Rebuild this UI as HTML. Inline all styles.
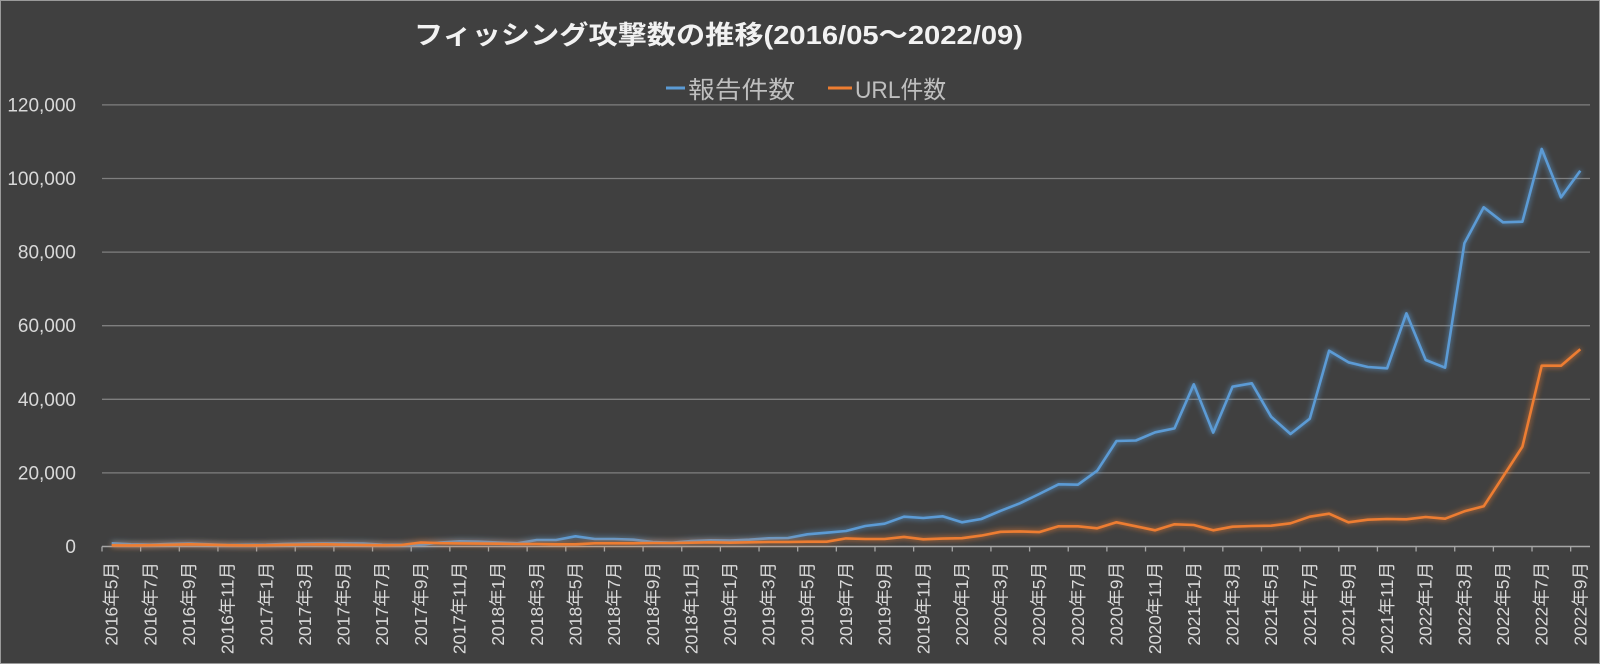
<!DOCTYPE html>
<html><head><meta charset="utf-8"><style>
html,body{margin:0;padding:0;background:#404040;}
svg{display:block;font-family:"Liberation Sans","Noto Sans CJK JP",sans-serif;}
</style></head><body>
<svg id="chart" width="1600" height="664" viewBox="0 0 1600 664" xmlns="http://www.w3.org/2000/svg">
<defs>
<filter id="glowB" x="-5%" y="-20%" width="110%" height="140%"><feGaussianBlur stdDeviation="3" result="b"/><feMerge><feMergeNode in="b"/><feMergeNode in="SourceGraphic"/></feMerge></filter>
</defs>
<rect x="0.5" y="0.5" width="1599" height="663" fill="#404040" stroke="#9a9a9a" stroke-width="1"/>
<text x="414" y="44" font-size="26" font-weight="bold" fill="#f2f2f2" textLength="609" lengthAdjust="spacingAndGlyphs">フィッシング攻撃数の推移(2016/05～2022/09)</text>
<g>
<line x1="666" y1="88" x2="685" y2="88" stroke="#5b9bd5" stroke-width="3"/>
<text x="688" y="98" font-size="24" fill="#bfbfbf" textLength="107" lengthAdjust="spacingAndGlyphs">報告件数</text>
<line x1="828" y1="88" x2="852" y2="88" stroke="#ed7d31" stroke-width="3"/>
<text x="855" y="98" font-size="24" fill="#bfbfbf" textLength="91" lengthAdjust="spacingAndGlyphs">URL件数</text>
</g>
<g id="grid"></g><g id="yaxis"></g><g id="xaxis"></g><g id="series"></g>
</svg>
<script>
const yTicks = [0, 20000, 40000, 60000, 80000, 100000, 120000];
const yTickLabels = ["0", "20,000", "40,000", "60,000", "80,000", "100,000", "120,000"];
const categories = (function(){const a=[];let y=2016,m=5;for(let i=0;i<77;i++){a.push(y+"年"+m+"月");m++;if(m>12){m=1;y++;}}return a;})();
const reports = [870,600,500,700,800,600,400,450,500,700,800,850,850,800,500,450,500,1100,1400,1300,1100,870,1770,1770,2770,2040,2040,1860,1220,1040,1490,1680,1590,1860,2220,2310,3310,3760,4210,5570,6200,8100,7740,8200,6570,7470,9700,11740,14270,16900,16800,20600,28670,28800,31030,32100,44070,30940,43430,44340,35280,30570,34740,53220,50050,48780,48420,63370,50680,48590,82400,92180,88100,88270,108020,94870,102120];
const urls = [330,300,350,450,600,500,350,300,350,450,550,600,500,400,350,400,1100,900,850,800,750,680,680,590,590,870,870,870,960,960,1040,1130,1040,1130,1220,1220,1300,1300,2200,2050,2050,2600,1950,2150,2250,2950,4000,4100,3900,5480,5480,4940,6580,5480,4400,6030,5840,4400,5390,5570,5660,6300,8100,8920,6580,7290,7470,7380,8010,7560,9560,10920,18970,27120,49130,49130,53590];

const NS="http://www.w3.org/2000/svg";
const X0=102, X1=1590, Y0=546.5, YMAX=120000, YTOP=104.9;
const catW=(X1-X0)/categories.length;
function xPos(i){return X0+catW*(i+0.5);}
function yPos(v){return Y0-(v/YMAX)*(Y0-YTOP);}
function mk(tag,attrs,parent){const e=document.createElementNS(NS,tag);for(const k in attrs)e.setAttribute(k,attrs[k]);parent.appendChild(e);return e;}

const grid=document.getElementById('grid'), yaxis=document.getElementById('yaxis'), xaxis=document.getElementById('xaxis'), series=document.getElementById('series');
yTicks.forEach((v,i)=>{
  if(v>0){const g=mk('line',{x1:X0,x2:X1,y1:yPos(v),y2:yPos(v),stroke:'#7f7f7f','stroke-width':1.3},grid);
  
  }
  const t=mk('text',{x:76,y:yPos(v)+6.5,'text-anchor':'end','font-size':19,fill:'#d9d9d9'},yaxis);
  t.textContent=yTickLabels[i];
  
  
});
const ax=mk('line',{x1:X0,x2:X1,y1:Y0,y2:Y0,stroke:'#a6a6a6','stroke-width':1.5},xaxis);


for(let i=0;i<=categories.length;i+=2){
  const tx=X0+catW*i;
  const tk=mk('line',{x1:tx,x2:tx,y1:Y0,y2:Y0+5,stroke:'#a6a6a6','stroke-width':1.3},xaxis);
  
  
}
categories.forEach((c,i)=>{
  if(i%2!==0)return;
  const cx=xPos(i)+6, cy=562;
  const t=mk('text',{x:cx,y:cy,'text-anchor':'end','font-size':17.5,fill:'#d9d9d9',transform:`rotate(-90 ${cx} ${cy})`},xaxis);
  t.textContent=c;
  
  
});
function line(data,color,name){
  const pts=data.map((v,i)=>xPos(i).toFixed(1)+','+yPos(v).toFixed(1)).join(' ');
  const p=mk('polyline',{points:pts,fill:'none',stroke:color,'stroke-width':2.6,'stroke-linejoin':'round',filter:'url(#glowB)'},series);
  
  
}
line(reports,'#5b9bd5','series-reports-line');
line(urls,'#ed7d31','series-urls-line');
</script>
</body></html>
